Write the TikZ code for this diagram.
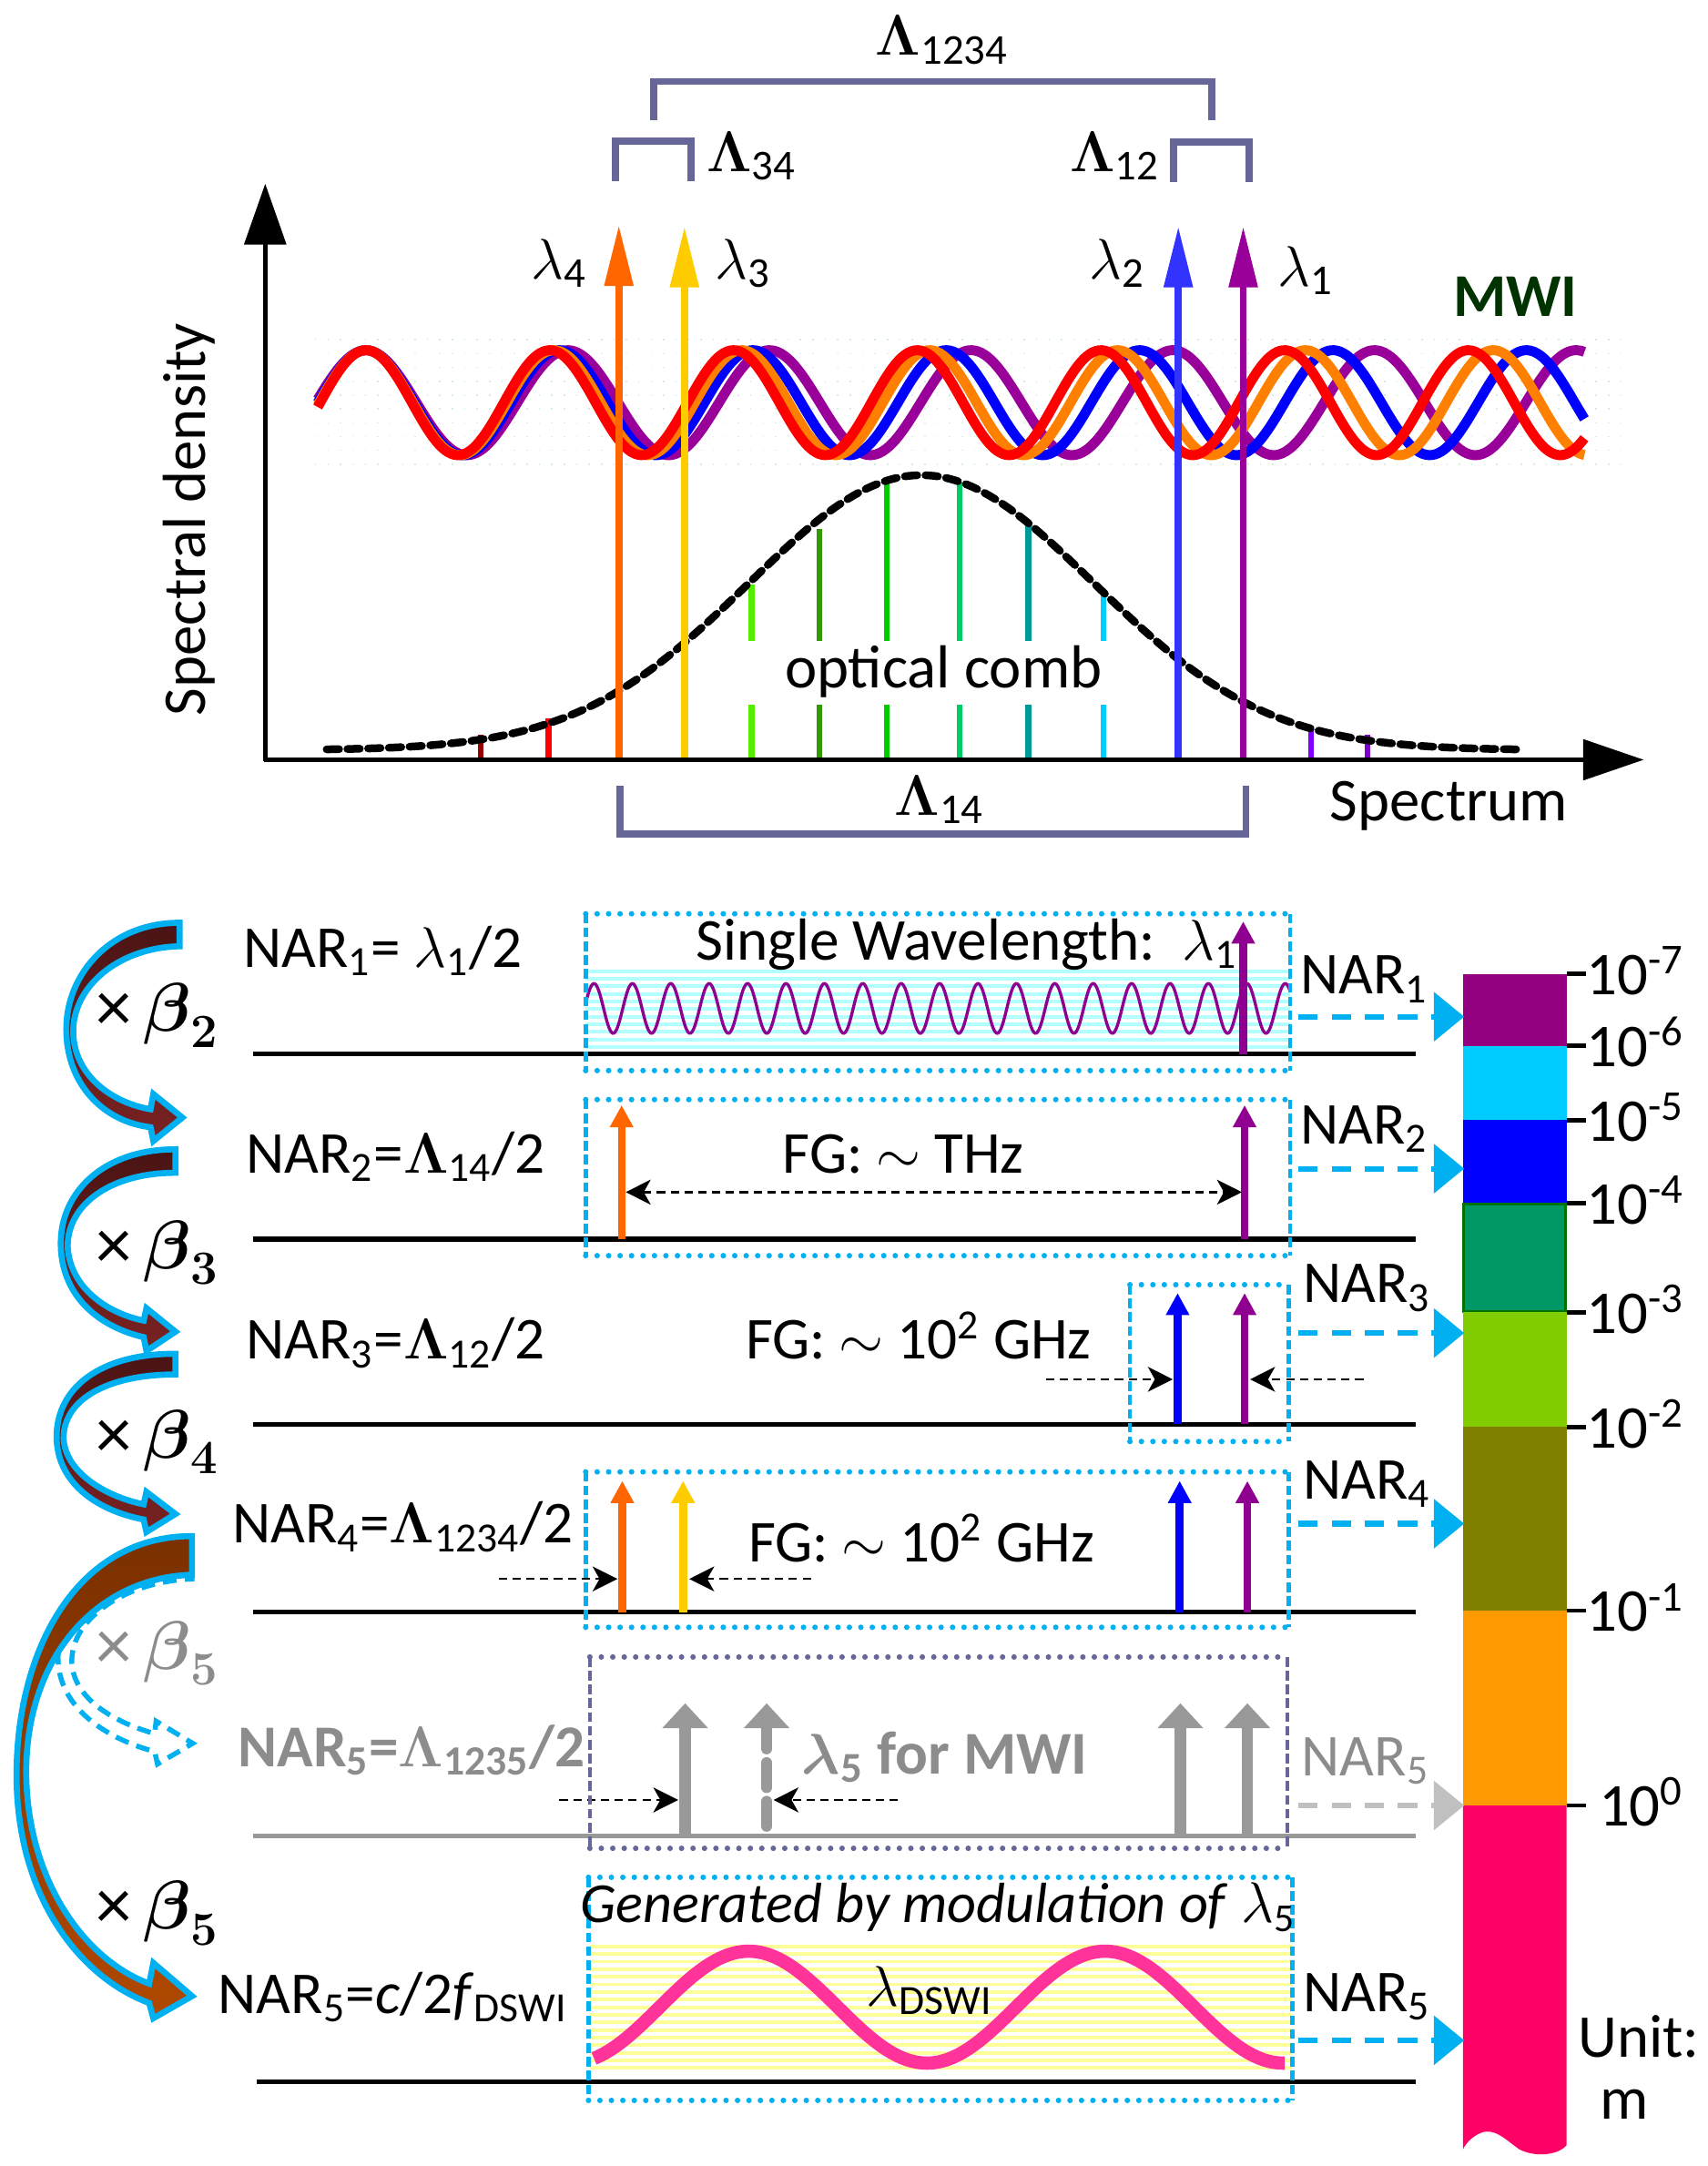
\documentclass[tikz,border=0pt]{standalone}
\usepackage{amsmath}
\usepackage[no-math]{fontspec}
\setmainfont{Carlito}
\usetikzlibrary{arrows.meta}
\definecolor{cyanA}{HTML}{00B0F0}
\definecolor{slate}{HTML}{666699}
\definecolor{lOrange}{HTML}{FF6600}
\definecolor{lYellow}{HTML}{FFCC00}
\definecolor{lBlue}{HTML}{3333FF}
\definecolor{lPurple}{HTML}{990099}
\definecolor{rBlue}{HTML}{0000FF}
\definecolor{rPurple}{HTML}{900090}
\definecolor{wOrange}{HTML}{FF8000}
\definecolor{wRed}{HTML}{FF0000}
\definecolor{wBlue}{HTML}{0000FF}
\definecolor{wPurple}{HTML}{990099}
\definecolor{mwiGreen}{HTML}{003300}
\definecolor{grayA}{HTML}{999999}
\definecolor{grayT}{HTML}{8C8C8C}
\definecolor{grayL}{HTML}{C0C0C0}
\definecolor{stripeC}{HTML}{B3FFFF}
\definecolor{stripeY}{HTML}{FFFF99}
\definecolor{pinkW}{HTML}{FF3399}
\definecolor{marTop}{HTML}{4A1414}
\definecolor{marBot}{HTML}{7A2222}
\definecolor{brTop}{HTML}{7A3000}
\definecolor{brBot}{HTML}{B04800}
\definecolor{gridF}{HTML}{D5F0E0}
\definecolor{cbA}{HTML}{930080}
\definecolor{cbB}{HTML}{00CCFF}
\definecolor{cbC}{HTML}{0000FF}
\definecolor{cbD}{HTML}{009966}
\definecolor{cbE}{HTML}{80CC00}
\definecolor{cbF}{HTML}{808000}
\definecolor{cbG}{HTML}{FF9900}
\definecolor{cbH}{HTML}{FF0066}
\definecolor{cmA}{HTML}{990000}
\definecolor{cmB}{HTML}{FF0000}
\definecolor{cmC}{HTML}{55EE00}
\definecolor{cmD}{HTML}{339900}
\definecolor{cmE}{HTML}{00CC00}
\definecolor{cmF}{HTML}{00CC66}
\definecolor{cmG}{HTML}{009999}
\definecolor{cmH}{HTML}{00CCFF}
\definecolor{cmI}{HTML}{7F00FF}
\definecolor{cmJ}{HTML}{8000CC}
\newcommand\mydotbox[5]{%
  \draw[#5, line width=2pt, dash pattern=on 0pt off 4.15pt, line cap=round] (#1,#2) -- (#3,#2) (#1,#4) -- (#3,#4);
  \draw[#5, line width=1.5pt, dash pattern=on 3.5pt off 1.5pt] (#1,#2) -- (#1,#4) (#3,#2) -- (#3,#4);}
\tikzset{
  big/.style={font=\fontsize{22}{26}\selectfont, inner sep=0pt},
  lbl/.style={font=\fontsize{21.5}{24}\selectfont, inner sep=0pt},
  betalbl/.style={font=\fontsize{26}{30}\selectfont, inner sep=0pt},
  lamarrow/.style={line width=2.5pt, -{Triangle[length=22pt,width=10pt]}},
  rowarrow/.style={line width=2.8pt, -{Triangle[length=8pt,width=8pt]}},
  grayarrow/.style={line width=4pt, grayA, -{Triangle[length=9pt,width=16pt]}},
  bdash/.style={line width=0.8pt, dash pattern=on 3pt off 2pt, -{Stealth[length=9pt,width=9pt,inset=2.5pt]}},
  narrow/.style={line width=2pt, dash pattern=on 7pt off 5pt, -{Triangle[length=11pt,width=17.5pt]}},
  baseln/.style={line width=1.8pt},
  bracket/.style={line width=2.6pt, slate},
  comb/.style={line width=2.1pt},
  wave/.style={line width=3.6pt},
  curvarrow/.style={draw=cyanA, line width=2.2pt, line join=miter},
}
\begin{document}
\begin{tikzpicture}[x=0.5pt,y=-0.5pt]
\useasboundingbox (0,0) rectangle (1236,1568);

% ================= TOP: spectrum =================
\foreach \yy in {246,256,...,336}
  \draw[gridF, line width=0.5pt, dash pattern=on 0.5pt off 4pt] (228,\yy) -- (1180,\yy);
\foreach \P/\c in {146/wPurple,140/wBlue,136/wOrange,133/wRed}
  \draw[wave, \c] plot[domain=230:1147, samples=400, smooth] (\x, {291.5 - 38*cos(360*((\x-265)/\P))});

\foreach \xx/\tp/\c in {348/532/cmA,397/520/cmB,949/526/cmI,990/532/cmJ}
  \draw[comb, \c] (\xx,550) -- (\xx,\tp);
\foreach \xx/\tp/\c in {544/423/cmC,593/383/cmD,642/349/cmE,694.5/349/cmF,744.5/378/cmG,799/430/cmH}
  \draw[comb, \c] (\xx,550) -- (\xx,510) (\xx,464) -- (\xx,\tp);

\draw[line width=2.8pt, dash pattern=on 4.5pt off 3pt, line cap=round]
  plot[domain=236.5:1101, samples=160, smooth] (\x, {543 - 199*exp(-0.5*((\x-667)/125)^2)});

\draw[lamarrow, lOrange] (448,550) -- (448,163);
\draw[lamarrow, lYellow] (495.5,550) -- (495.5,164);
\draw[lamarrow, lBlue] (853,550) -- (853,164);
\draw[lamarrow, lPurple] (900,550) -- (900,164);

\draw[line width=1.5pt, -{Triangle[length=22pt,width=15pt]}] (192,551) -- (192,133);
\draw[line width=1.9pt, -{Triangle[length=22pt,width=14.5pt]}] (191,550) -- (1190,550);

\draw[bracket] (473.5,87) -- (473.5,59) -- (877.5,59) -- (877.5,87);
\draw[bracket] (445.5,131) -- (445.5,102) -- (500,102) -- (500,131);
\draw[bracket] (849.5,132) -- (849.5,103) -- (904,103) -- (904,132);
\draw[bracket] (449,569) -- (449,604) -- (902,604) -- (902,569);

\node[big, anchor=base] (L1234) at (682,40) {$\mathbf{\Lambda}$\textsubscript{1234}};
\node[big, anchor=base] (L34) at (544,124) {$\mathbf{\Lambda}$\textsubscript{34}};
\node[big, anchor=base] (L12) at (807,124) {$\mathbf{\Lambda}$\textsubscript{12}};
\node[big, anchor=base] (L14) at (680,590) {$\mathbf{\Lambda}$\textsubscript{14}};
\node[big, anchor=base] (lam4) at (405,202) {$\lambda$\textsubscript{4}};
\node[big, anchor=base] (lam3) at (538,202) {$\lambda$\textsubscript{3}};
\node[big, anchor=base] (lam2) at (809,202) {$\lambda$\textsubscript{2}};
\node[big, anchor=base] (lam1) at (945,207) {$\lambda$\textsubscript{1}};
\node[font=\fontsize{22}{26}\selectfont\bfseries, text=mwiGreen, inner sep=0pt, anchor=base] (mwi) at (1097,229) {MWI};
\node[big, rotate=90] (sd) at (137,376) {Spectral density};
\node[big, anchor=base] (spec) at (1049,594) {Spectrum};
\node[big, anchor=base] (oc) at (683,498) {optical comb};

% ================= colour bar =================
\fill[cbA] (1059,705) rectangle (1134,757);
\fill[cbB] (1059,757) rectangle (1134,811);
\fill[cbC] (1059,811) rectangle (1134,871);
\fill[cbD] (1059,871) rectangle (1134,950);
\draw[green!45!black, line width=1pt] (1059.5,871.5) rectangle (1133.5,949.5);
\fill[cbE] (1059,950) rectangle (1134,1033);
\fill[cbF] (1059,1033) rectangle (1134,1166);
\fill[cbG] (1059,1166) rectangle (1134,1307);
\fill[cbH] (1059,1307) -- (1134,1307) -- (1134,1553)
   .. controls (1128,1560) and (1112,1562) .. (1100,1556)
   .. controls (1090,1549) and (1082,1540) .. (1072,1544)
   .. controls (1065,1547) and (1061,1552) .. (1059,1556) -- cycle;
\foreach \ty in {705,757,811,871,950,1033,1166,1307}
  \draw[line width=1.5pt] (1134,\ty) -- (1148,\ty);
\node[big, anchor=base west] (t7) at (1148,720) {10\textsuperscript{-7}};
\node[big, anchor=base west] (t6) at (1148,772) {10\textsuperscript{-6}};
\node[big, anchor=base west] (t5) at (1148,826) {10\textsuperscript{-5}};
\node[big, anchor=base west] (t4) at (1148,886) {10\textsuperscript{-4}};
\node[big, anchor=base west] (t3) at (1148,965) {10\textsuperscript{-3}};
\node[big, anchor=base west] (t2) at (1148,1048) {10\textsuperscript{-2}};
\node[big, anchor=base west] (t1) at (1148,1181) {10\textsuperscript{-1}};
\node[big, anchor=base west] (t0) at (1157,1322) {10\textsuperscript{0}};
\node[big, anchor=base west] (unit) at (1142,1489) {Unit:};
\node[big, anchor=base] (unitm) at (1176,1534) {m};

% ================= ROW 1 =================
\foreach \yy in {703,708.5,...,761}
  \draw[stripeC, line width=1.3pt] (424,\yy) -- (934,\yy);
\draw[rPurple, line width=1.1pt] plot[domain=424:934, samples=700] (\x, {730 - 18*cos(360*((\x-430)/27.8))});
\draw[baseln] (183,763) -- (1025,763);
\draw[rowarrow, rPurple] (900,763) -- (900,667);
\mydotbox{424}{661.5}{934}{775}{cyanA}
\node[lbl, anchor=base west] (nar1) at (176,700) {NAR\textsubscript{1}= $\lambda$\textsubscript{1}/2};
\node[lbl, anchor=base] (sw) at (700,695) {Single Wavelength:\ \ $\lambda$\textsubscript{1}};
\node[lbl, anchor=base west] (nar1r) at (941,719.5) {NAR\textsubscript{1}};
\coordinate (a1s) at (940,736); \coordinate (a1e) at (1060,736);
\draw[narrow, cyanA] (a1s) -- (a1e);

% ================= ROW 2 =================
\draw[baseln] (183,897) -- (1025,897);
\draw[rowarrow, lOrange] (450,897) -- (450,800);
\draw[rowarrow, rPurple] (901,897) -- (901,800);
\coordinate (d2a) at (453,863); \coordinate (d2b) at (899,863);
\draw[line width=0.8pt, dash pattern=on 3pt off 2pt, {Stealth[length=9pt,width=9pt,inset=2.5pt]}-{Stealth[length=9pt,width=9pt,inset=2.5pt]}] (d2a) -- (d2b);
\mydotbox{424}{796}{934}{909}{cyanA}
\node[lbl, anchor=base west] (nar2) at (178,849) {NAR\textsubscript{2}=$\mathbf{\Lambda}$\textsubscript{14}/2};
\node[lbl, anchor=base] (fg2) at (654,849) {FG: $\sim$ THz};
\node[lbl, anchor=base west] (nar2r) at (941,828) {NAR\textsubscript{2}};
\coordinate (a2s) at (940,846); \coordinate (a2e) at (1060,846);
\draw[narrow, cyanA] (a2s) -- (a2e);

% ================= ROW 3 =================
\draw[baseln] (183,1031) -- (1025,1031);
\draw[rowarrow, rBlue] (852.5,1031) -- (852.5,936);
\draw[rowarrow, rPurple] (901,1031) -- (901,936);
\coordinate (d3a) at (757,998.5); \coordinate (d3b) at (849,998.5);
\coordinate (d3c) at (987,998.5); \coordinate (d3d) at (905,998.5);
\draw[bdash] (d3a) -- (d3b);
\draw[bdash] (d3c) -- (d3d);
\mydotbox{818}{930}{933}{1043.5}{cyanA}
\node[lbl, anchor=base west] (nar3) at (178,984) {NAR\textsubscript{3}=$\mathbf{\Lambda}$\textsubscript{12}/2};
\node[lbl, anchor=base] (fg3) at (665,984) {FG: $\sim$ 10\textsuperscript{2} GHz};
\node[lbl, anchor=base west] (nar3r) at (943,943) {NAR\textsubscript{3}};
\coordinate (a3s) at (940,965); \coordinate (a3e) at (1060,965);
\draw[narrow, cyanA] (a3s) -- (a3e);

% ================= ROW 4 =================
\draw[baseln] (183,1167) -- (1025,1167);
\draw[rowarrow, lOrange] (450.5,1167) -- (450.5,1072);
\draw[rowarrow, lYellow] (494.5,1167) -- (494.5,1072);
\draw[rowarrow, rBlue] (854,1167) -- (854,1072);
\draw[rowarrow, rPurple] (903,1167) -- (903,1072);
\coordinate (d4a) at (361,1143); \coordinate (d4b) at (447,1143);
\coordinate (d4c) at (587,1143); \coordinate (d4d) at (499,1143);
\draw[bdash] (d4a) -- (d4b);
\draw[bdash] (d4c) -- (d4d);
\mydotbox{424}{1065.5}{933}{1178}{cyanA}
\node[lbl, anchor=base west] (nar4) at (168,1117) {NAR\textsubscript{4}=$\mathbf{\Lambda}$\textsubscript{1234}/2};
\node[lbl, anchor=base] (fg4) at (667,1130.5) {FG: $\sim$ 10\textsuperscript{2} GHz};
\node[lbl, anchor=base west] (nar4r) at (943,1085) {NAR\textsubscript{4}};
\coordinate (a4s) at (940,1103); \coordinate (a4e) at (1060,1103);
\draw[narrow, cyanA] (a4s) -- (a4e);

% ================= ROW 5 (grey) =================
\draw[baseln, grayA] (183,1329) -- (1025,1329);
\draw[grayarrow] (496,1329) -- (496,1233);
\draw[grayarrow, dash pattern=on 9pt off 5pt, line cap=round] (555,1322) -- (555,1233);
\draw[grayarrow] (854.5,1329) -- (854.5,1233);
\draw[grayarrow] (903,1329) -- (903,1233);
\coordinate (d5a) at (405,1303); \coordinate (d5b) at (491,1303);
\coordinate (d5c) at (650,1303); \coordinate (d5d) at (560,1303);
\draw[bdash] (d5a) -- (d5b);
\draw[bdash] (d5c) -- (d5d);
\mydotbox{427}{1199.5}{932}{1338}{slate}
\node[lbl, font=\fontsize{21.5}{24}\selectfont\bfseries, text=grayT, anchor=base west] (nar5g) at (172,1279) {NAR\textsubscript{5}=$\mathbf{\Lambda}$\textsubscript{1235}/2};
\node[lbl, font=\fontsize{22}{24}\selectfont\bfseries, text=grayT, anchor=base] (l5) at (684,1284) {$\boldsymbol{\lambda}$\textsubscript{5} for MWI};
\node[lbl, text=grayT, anchor=base west] (nar5gr) at (942,1285.5) {NAR\textsubscript{5}};
\coordinate (a5s) at (940,1307); \coordinate (a5e) at (1060,1307);
\draw[narrow, grayL] (a5s) -- (a5e);

% ================= ROW 6 =================
\foreach \yy in {1409,1414.5,...,1501}
  \draw[stripeY, line width=1.3pt] (427,\yy) -- (935,\yy);
\draw[pinkW, line width=4.8pt] plot[domain=430:930, samples=200, smooth] (\x, {1453 - 40.5*cos(360*((\x-542)/258))});
\draw[baseln] (186,1507) -- (1025,1507);
\mydotbox{426}{1359}{935.5}{1520.5}{cyanA}
\node[lbl, anchor=base west] (nar6) at (157.6,1457.6) {NAR\textsubscript{5}=\textit{c}/2\textit{f}\textsubscript{DSWI}};
\node[lbl, font=\fontsize{20.5}{24}\selectfont, anchor=base] (gen) at (679,1392) {\textit{Generated by modulation of} $\lambda$\textsubscript{5}};
\node[lbl, anchor=base] (ldswi) at (673,1452) {$\lambda$\textsubscript{DSWI}};
\node[lbl, anchor=base west] (nar6r) at (943,1456) {NAR\textsubscript{5}};
\coordinate (a6s) at (940,1477); \coordinate (a6e) at (1060,1477);
\draw[narrow, cyanA] (a6s) -- (a6e);

% ================= curved block arrows =================
\draw[cyanA, line width=1.8pt, dash pattern=on 5pt off 3pt, fill=white]
  (139,1128) .. controls (85,1130) and (42,1160) .. (42,1200)
  .. controls (42,1235) and (75,1258) .. (112,1268) -- (114,1277) -- (139.5,1262) -- (113,1246) -- (112,1255)
  .. controls (80,1246) and (52,1228) .. (52,1202)
  .. controls (52,1172) and (90,1145) .. (139,1143) -- cycle;
\draw[curvarrow, top color=brTop, bottom color=brBot]
  (139,1112) .. controls (55,1112) and (12,1195) .. (12,1285)
  .. controls (12,1370) and (55,1430) .. (108,1450) -- (111,1461) -- (139,1445) -- (111,1421) -- (108,1436)
  .. controls (60,1418) and (20,1360) .. (19,1285)
  .. controls (18,1200) and (70,1142) .. (139,1140) -- cycle;
\draw[curvarrow, top color=marTop, bottom color=marBot]
  (127,980) .. controls (72,980) and (41,1005) .. (41,1040)
  .. controls (41,1072) and (68,1093) .. (104,1100) -- (106,1109) -- (127,1096) -- (106,1080) -- (104,1089)
  .. controls (75,1083) and (47,1065) .. (46,1041)
  .. controls (46,1013) and (78,995) .. (127,995) -- cycle;
\draw[curvarrow, top color=marTop, bottom color=marBot]
  (127,832) .. controls (75,832) and (44,863) .. (44,900)
  .. controls (44,937) and (70,960) .. (104,968) -- (106,978) -- (127,964) -- (106,947) -- (104,956)
  .. controls (75,950) and (50,930) .. (49,902)
  .. controls (49,872) and (80,849) .. (127,849) -- cycle;
\draw[curvarrow, top color=marTop, bottom color=marBot]
  (130,668) .. controls (80,668) and (48,705) .. (48,745)
  .. controls (48,785) and (75,812) .. (109,816) -- (111,826) -- (132,809) -- (111,792) -- (109,803)
  .. controls (80,798) and (54,778) .. (53,748)
  .. controls (52,715) and (85,686) .. (130,685) -- cycle;

\node[betalbl] (b2) at (114,735) {×\,$\boldsymbol{\beta}_{\mathbf{2}}$};
\node[betalbl] (b3) at (114,907) {×\,$\boldsymbol{\beta}_{\mathbf{3}}$};
\node[betalbl] (b4) at (114,1044) {×\,$\boldsymbol{\beta}_{\mathbf{4}}$};
\node[betalbl, text=grayT] (b5g) at (114,1197) {×\,$\boldsymbol{\beta}_{\mathbf{5}}$};
\node[betalbl] (b5) at (114,1385) {×\,$\boldsymbol{\beta}_{\mathbf{5}}$};
\end{tikzpicture}
\end{document}
